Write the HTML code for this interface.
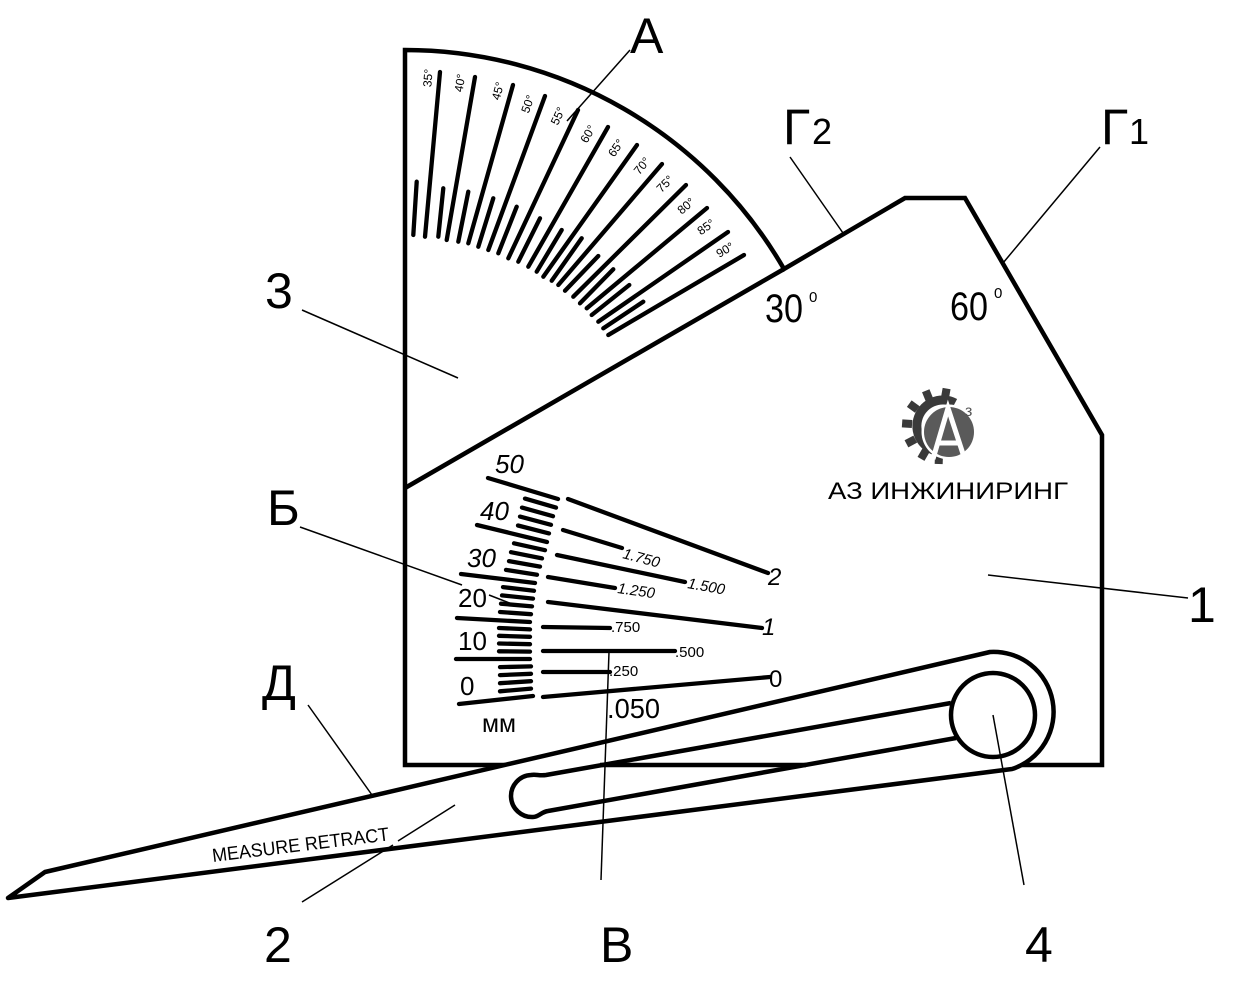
<!DOCTYPE html>
<html><head><meta charset="utf-8"><style>
html,body{margin:0;padding:0;background:#fff;width:1256px;height:986px;overflow:hidden}
svg{display:block}
text{font-family:"Liberation Sans","DejaVu Sans",sans-serif;fill:#000}
</style></head><body>
<svg width="1256" height="986" viewBox="0 0 1256 986" xmlns="http://www.w3.org/2000/svg">
<rect width="1256" height="986" fill="#fff"/>

<!-- body outline -->
<g fill="none" stroke="#000" stroke-width="4.5" stroke-linejoin="miter">
<path d="M405,50 A438,438 0 0 1 784,269 L905,198 L965,198 L1102,435 L1102,765 L405,765 Z" fill="#fff"/>
<line x1="405" y1="488" x2="784" y2="269"/>
</g>

<!-- protractor ticks -->
<g stroke="#000" stroke-width="4.3" stroke-linecap="round">
<line x1="425" y1="236.7" x2="440" y2="72"/>
<line x1="446.7" y1="240" x2="475" y2="77"/>
<line x1="468.3" y1="243.3" x2="513" y2="85"/>
<line x1="488.3" y1="250" x2="545" y2="96"/>
<line x1="508.3" y1="258.3" x2="578" y2="110"/>
<line x1="528.3" y1="266.7" x2="608" y2="127"/>
<line x1="543.3" y1="276.7" x2="637" y2="145"/>
<line x1="558.3" y1="285" x2="662" y2="164"/>
<line x1="573.3" y1="296.7" x2="686" y2="185"/>
<line x1="586.7" y1="308.3" x2="707" y2="208"/>
<line x1="598.3" y1="321.7" x2="728" y2="232"/>
<line x1="608.3" y1="335" x2="744" y2="255"/>
<line x1="413.3" y1="235" x2="416.7" y2="181.7"/>
<line x1="438.3" y1="236.7" x2="443.3" y2="188.3"/>
<line x1="458.3" y1="241.7" x2="468.3" y2="191.7"/>
<line x1="478.3" y1="246.7" x2="493.3" y2="198.3"/>
<line x1="498.3" y1="253.3" x2="516.7" y2="206.7"/>
<line x1="518.3" y1="261.7" x2="540" y2="218.3"/>
<line x1="536.7" y1="271.7" x2="561.7" y2="230"/>
<line x1="551.7" y1="280.7" x2="581.7" y2="238.3"/>
<line x1="565" y1="290.7" x2="598.3" y2="256"/>
<line x1="580" y1="303.3" x2="613.3" y2="269.3"/>
<line x1="591.7" y1="315" x2="629.3" y2="285"/>
<line x1="603.3" y1="328.3" x2="643.3" y2="301.7"/>
</g>
<g font-size="12" text-anchor="middle" dominant-baseline="central">
<text transform="translate(428,78) rotate(-85)">35°</text>
<text transform="translate(460,83) rotate(-80)">40°</text>
<text transform="translate(498,91) rotate(-75)">45°</text>
<text transform="translate(528,104) rotate(-70)">50°</text>
<text transform="translate(558,116) rotate(-65)">55°</text>
<text transform="translate(588,134) rotate(-60)">60°</text>
<text transform="translate(616,148) rotate(-55)">65°</text>
<text transform="translate(642,166) rotate(-50)">70°</text>
<text transform="translate(665,184) rotate(-45)">75°</text>
<text transform="translate(686,206) rotate(-40)">80°</text>
<text transform="translate(706,227) rotate(-35)">85°</text>
<text transform="translate(725,250) rotate(-30.5)">90°</text>
</g>

<!-- mm scale -->
<g stroke="#000" stroke-width="4.3" stroke-linecap="round">
<line x1="459" y1="704" x2="533" y2="696"/>
<line x1="456" y1="659" x2="530" y2="659"/>
<line x1="457" y1="618" x2="530" y2="622"/>
<line x1="461" y1="574" x2="535" y2="583"/>
<line x1="477" y1="525" x2="547" y2="542"/>
<line x1="488" y1="478" x2="558" y2="499"/>
<line x1="500" y1="691.3" x2="531" y2="688.6"/>
<line x1="500" y1="683.2" x2="531" y2="681.2"/>
<line x1="500" y1="675.1" x2="531" y2="673.8"/>
<line x1="500" y1="667.1" x2="531" y2="666.4"/>
<line x1="499" y1="651.3" x2="530" y2="651.6"/>
<line x1="499" y1="643.5" x2="530" y2="644.2"/>
<line x1="499" y1="635.8" x2="530" y2="636.8"/>
<line x1="499" y1="628" x2="530" y2="629.4"/>
<line x1="500" y1="612" x2="531" y2="614.2"/>
<line x1="501" y1="603.7" x2="532" y2="606.4"/>
<line x1="502" y1="595.4" x2="533" y2="598.6"/>
<line x1="503" y1="587.1" x2="534" y2="590.8"/>
<line x1="506" y1="569.9" x2="537" y2="574.8"/>
<line x1="509" y1="561.1" x2="540" y2="566.6"/>
<line x1="511" y1="552.2" x2="542" y2="558.4"/>
<line x1="514" y1="543.3" x2="545" y2="550.2"/>
<line x1="518" y1="525.5" x2="549" y2="533.4"/>
<line x1="520" y1="516.6" x2="551" y2="524.8"/>
<line x1="522" y1="507.6" x2="553" y2="516.2"/>
<line x1="525" y1="498.6" x2="556" y2="507.6"/>
<!-- right fan -->
<line x1="568" y1="499" x2="768" y2="573"/>
<line x1="563" y1="530" x2="622" y2="548"/>
<line x1="557" y1="555" x2="685" y2="582"/>
<line x1="548" y1="577" x2="615" y2="588"/>
<line x1="548" y1="602" x2="762" y2="628"/>
<line x1="543" y1="627" x2="610" y2="628"/>
<line x1="543" y1="651" x2="675" y2="651"/>
<line x1="543" y1="672" x2="610" y2="672"/>
<line x1="543" y1="697" x2="770" y2="677"/>
</g>
<g font-size="26">
<text x="495" y="473" font-style="italic">50</text>
<text x="480" y="520" font-style="italic">40</text>
<text x="467" y="567" font-style="italic">30</text>
<text x="458" y="607">20</text>
<text x="458" y="650">10</text>
<text x="460" y="695">0</text>
<text x="482" y="732" font-size="25" textLength="34" lengthAdjust="spacingAndGlyphs">мм</text>
</g>
<g font-size="24">
<text x="768" y="585" font-style="italic">2</text>
<text x="762" y="635" font-style="italic">1</text>
<text x="769" y="687">0</text>
</g>
<g font-size="15">
<text transform="translate(622,558) rotate(15)" font-style="italic">1.750</text>
<text transform="translate(687,588) rotate(10)" font-style="italic">1.500</text>
<text transform="translate(617,593) rotate(8)" font-style="italic">1.250</text>
<text x="611" y="632">.750</text>
<text x="675" y="657">.500</text>
<text x="609" y="676">.250</text>
</g>
<text x="607" y="718" font-size="28" textLength="53" lengthAdjust="spacingAndGlyphs">.050</text>

<!-- angle labels -->
<text x="765" y="322" font-size="40" textLength="38" lengthAdjust="spacingAndGlyphs">30</text>
<text x="809" y="302" font-size="15">0</text>
<text x="950" y="320" font-size="40" textLength="38" lengthAdjust="spacingAndGlyphs">60</text>
<text x="994" y="298" font-size="15">0</text>

<!-- logo -->
<g>
<path d="M955,403 A26,26 0 1 0 943,452" fill="none" stroke="#3a3a3a" stroke-width="9"/>
<g fill="#3a3a3a">
<rect x="-4" y="-38" width="8" height="10" transform="translate(940,426) rotate(10)"/>
<rect x="-4" y="-38" width="8" height="10" transform="translate(940,426) rotate(-22)"/>
<rect x="-4" y="-38" width="8" height="10" transform="translate(940,426) rotate(-54)"/>
<rect x="-4" y="-38" width="8" height="10" transform="translate(940,426) rotate(-86)"/>
<rect x="-4" y="-38" width="8" height="10" transform="translate(940,426) rotate(-118)"/>
<rect x="-4" y="-38" width="8" height="10" transform="translate(940,426) rotate(-150)"/>
<rect x="-4" y="-38" width="8" height="10" transform="translate(940,426) rotate(-178)"/>
</g>
<circle cx="949" cy="432" r="27.5" fill="#fff"/>
<circle cx="949" cy="432" r="25" fill="#5a5a5a"/>
<path d="M933,459 L948,408 L964,457 M937,443 L960,443" fill="none" stroke="#fff" stroke-width="5"/>
<text x="965" y="416" font-size="16" style="fill:#555">з</text>
</g>
<text x="828" y="499" font-size="24" textLength="240" lengthAdjust="spacingAndGlyphs">АЗ ИНЖИНИРИНГ</text>

<!-- lever -->
<g stroke="#000" stroke-width="4.5" stroke-linejoin="round">
<path d="M8,898 L45,872 L990,652 A60,60 0 0 1 1012,769 Z" fill="#fff"/>
<path d="M951,703 L546,775 C539,776 536,774 531,775 A21,21 0 0 0 533,817 C539,817 541,812 548,811 L956,738" fill="#fff"/>
<line x1="600" y1="765" x2="806" y2="765"/>
<circle cx="993" cy="715" r="42" fill="#fff"/>
</g>
<text transform="translate(213,862) rotate(-7)" font-size="19" textLength="178" lengthAdjust="spacingAndGlyphs">MEASURE RETRACT</text>

<!-- leaders -->
<g stroke="#000" stroke-width="1.5" fill="none">
<line x1="630" y1="50" x2="567" y2="121"/>
<line x1="790" y1="157" x2="843" y2="233"/>
<line x1="1100" y1="147" x2="1003" y2="263"/>
<line x1="302" y1="310" x2="458" y2="378"/>
<line x1="300" y1="527" x2="462" y2="585"/>
<line x1="489" y1="595" x2="517" y2="606"/>
<line x1="308" y1="705" x2="372" y2="795"/>
<line x1="302" y1="902" x2="393" y2="845"/>
<line x1="398" y1="841" x2="455" y2="805"/>
<line x1="609" y1="652" x2="601" y2="880"/>
<line x1="988" y1="575" x2="1188" y2="598"/>
<line x1="993" y1="715" x2="1024" y2="885"/>
</g>

<!-- callout labels -->
<g font-size="50">
<text x="630" y="53">А</text>
<text x="783" y="144">Г</text>
<text x="812" y="144" font-size="36">2</text>
<text x="1101" y="144">Г</text>
<text x="1129" y="144" font-size="36">1</text>
<text x="265" y="308">3</text>
<text x="267" y="525">Б</text>
<text x="262" y="700">Д</text>
<text x="1188" y="622">1</text>
<text x="264" y="962">2</text>
<text x="600" y="962">В</text>
<text x="1025" y="962">4</text>
</g>
</svg>
</body></html>
